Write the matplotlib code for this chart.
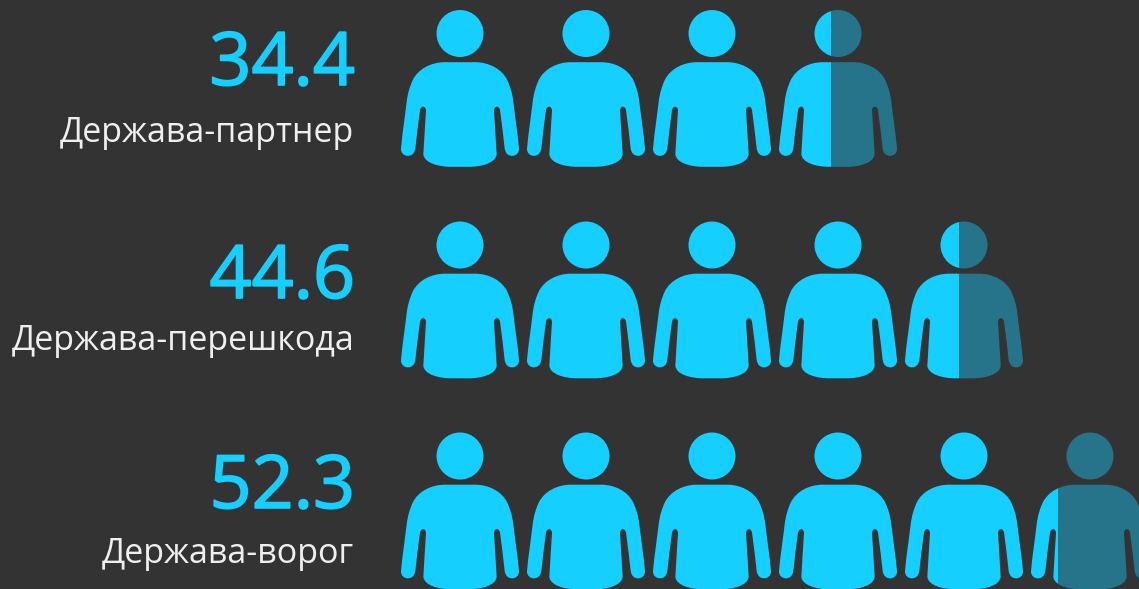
# people pictogram, one figure = 10 units

import numpy as np
import matplotlib
matplotlib.use('Agg')
import matplotlib.pyplot as plt
import matplotlib.patheffects as pe
from matplotlib.path import Path
from matplotlib.patches import PathPatch, Rectangle

labels = ['Держава-партнер', 'Держава-перешкода', 'Держава-ворог']
values = [34.4, 44.6, 52.3]
value_text = ['34.4', '44.6', '52.3']
per_icon = 10

bg = '#333333'
bright = '#14CFFF'
dim = '#26748A'
W, H = 1139, 589

x0 = 460  # head centre of first icon
pitch = 126
row_y = [33.5, 245, 456]
half_w = 59
text_x = 354
num_base = [85, 298, 508]
label_base = [141.5, 350, 563]

# right half of body, all cubic segments, zoomed pixels rel. to head centre
right = np.array([
    [0, 86],
    [15, 86], [30, 86], [45, 86],
    [85, 86], [125, 105], [142, 140],
    [151, 160], [157, 180], [160, 205],
    [164, 240], [173, 300], [177, 345],
    [178, 358], [168, 367], [157, 367],
    [146, 367], [137, 362], [134, 345],
    [130, 310], [125, 265], [120, 230],
    [117, 216], [104, 216], [102, 230],
    [104, 270], [108, 320], [110, 362],
    [108, 388], [65, 400], [25, 400],
    [15, 400], [8, 400], [0, 400],
]) / 3.0
left = right[::-1][1:] * np.array([-1, 1])
body_v = np.vstack([right, left])
body_c = [Path.MOVETO] + [Path.CURVE4] * (len(body_v) - 1)
body = Path(body_v, body_c)
head = Path.circle((0, 0), 23.5)
person = Path.make_compound_path(head, body)


def draw_person(ax, cx, cy, frac):
    p = Path(person.vertices + np.array([cx, cy]), person.codes)
    split = cx - half_w + frac * 2 * half_w
    if frac >= 1:
        ax.add_patch(PathPatch(p, fc=bright, ec='none'))
        return
    a = PathPatch(p, fc=bright, ec='none')
    b = PathPatch(p, fc=dim, ec='none')
    ax.add_patch(a)
    ax.add_patch(b)
    a.set_clip_path(Rectangle((0, 0), split, H, transform=ax.transData))
    b.set_clip_path(Rectangle((split, 0), W - split, H, transform=ax.transData))


fig = plt.figure(figsize=(W / 100, H / 100), dpi=100, facecolor=bg)
ax = fig.add_axes([0, 0, 1, 1])
ax.set_xlim(0, W)
ax.set_ylim(H, 0)
ax.axis('off')

for r in range(len(values)):
    n = int(np.ceil(values[r] / per_icon))
    for i in range(n):
        frac = min(values[r] / per_icon - i, 1)
        draw_person(ax, x0 + i * pitch, row_y[r], frac)
    t = ax.text(text_x + 1, num_base[r], value_text[r], color=bright, ha='right', va='baseline',
                fontsize=53, family='Open Sans')
    t.set_path_effects([pe.withStroke(linewidth=1.2, foreground=bright)])  # no medium weight installed
    ax.text(text_x, label_base[r], labels[r], color='#EFEFEF', ha='right', va='baseline',
            fontsize=24.5, family='Open Sans')

fig.savefig('out.png', dpi=100, facecolor=bg)
